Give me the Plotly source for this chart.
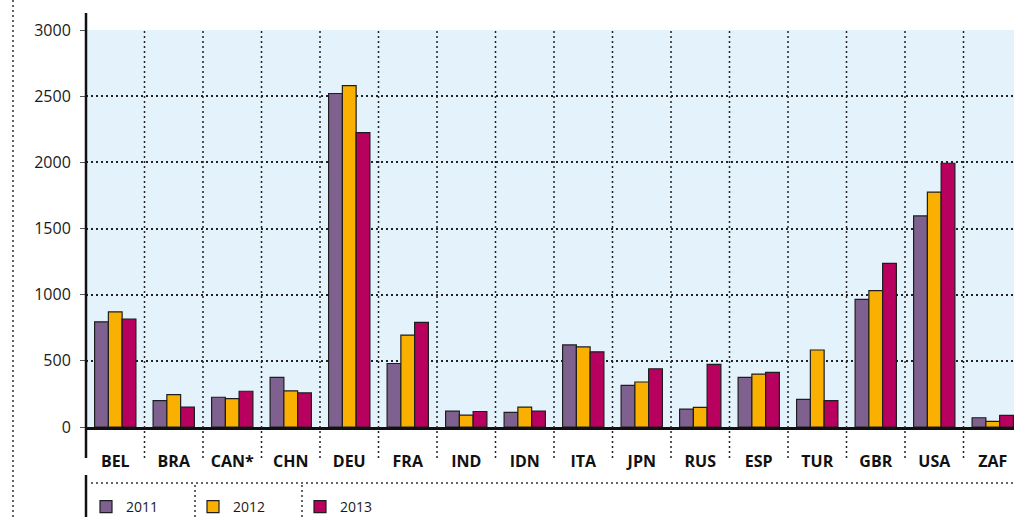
import plotly.graph_objects as go

categories = ["BEL", "BRA", "CAN*", "CHN", "DEU", "FRA", "IND", "IDN", "ITA", "JPN", "RUS", "ESP", "TUR", "GBR", "USA", "ZAF"]
years = ["2011", "2012", "2013"]
v2011 = [795, 200, 225, 375, 2520, 480, 120, 110, 620, 315, 135, 375, 208, 965, 1595, 70]
v2012 = [870, 245, 215, 273, 2580, 695, 90, 150, 605, 340, 148, 400, 582, 1030, 1775, 42]
v2013 = [815, 150, 270, 258, 2225, 790, 117, 120, 568, 440, 473, 413, 200, 1237, 1993, 88]
y_ticks = [0, 500, 1000, 1500, 2000, 2500, 3000]

colors = ["#7f6190", "#f9b000", "#b8005e"]
series = [v2011, v2012, v2013]

W, H = 1014, 517
L, T, B = 86, 30, 90
PW = W - L
PH = H - T - B
DOT = "2px,3px"

def px_x(px):
    return (px - L) / PW

def px_y(py):
    return (H - B - py) / PH

fig = go.Figure()
for name, vals, col in zip(years, series, colors):
    fig.add_trace(go.Bar(
        x=categories, y=vals, name=name,
        marker=dict(color=col, line=dict(color="#1e1e1e", width=1.2)),
    ))

shapes = []
# vertical dotted category separators
for i in range(len(categories) - 1):
    shapes.append(dict(type="line", xref="x", yref="paper",
                       x0=i + 0.5, x1=i + 0.5, y0=px_y(458), y1=1,
                       line=dict(color="#222", width=1.5, dash=DOT), layer="above"))
# left black axis line
shapes.append(dict(type="line", xref="paper", yref="paper", x0=0, x1=0,
                   y0=px_y(458), y1=px_y(13), line=dict(color="#111", width=2.5)))
# far-left dotted line
shapes.append(dict(type="line", xref="paper", yref="paper", x0=px_x(13), x1=px_x(13),
                   y0=px_y(517), y1=px_y(0), line=dict(color="#333", width=1.5, dash=DOT)))
# legend frame
shapes.append(dict(type="line", xref="paper", yref="paper", x0=0, x1=0,
                   y0=px_y(517), y1=px_y(475), line=dict(color="#111", width=2.5)))
shapes.append(dict(type="line", xref="paper", yref="paper", x0=px_x(91), x1=1,
                   y0=px_y(483), y1=px_y(483), line=dict(color="#333", width=1.5, dash=DOT)))
for sx in (195, 302):
    shapes.append(dict(type="line", xref="paper", yref="paper", x0=px_x(sx), x1=px_x(sx),
                       y0=px_y(517), y1=px_y(483), line=dict(color="#333", width=1.5, dash=DOT)))

fig.update_layout(
    width=W, height=H,
    margin=dict(l=L, r=0, t=T, b=B, pad=0, autoexpand=False),
    paper_bgcolor="white", plot_bgcolor="#e3f2fb",
    barmode="group", bargap=0.294, bargroupgap=0,
    font=dict(family="Open Sans, sans-serif", color="#1a1a1a"),
    showlegend=True,
    legend=dict(orientation="h", x=px_x(86), xanchor="left", y=px_y(507), yanchor="middle",
                entrywidth=62, entrywidthmode="pixels", bgcolor="rgba(0,0,0,0)",
                font=dict(size=14, color="#1a1a1a"), traceorder="normal"),
    shapes=shapes,
    xaxis=dict(type="category", range=[-0.5, 15.5 - 8 / 58.5], showgrid=False, automargin=False,
               showline=True, linecolor="#111", linewidth=2.5, ticks="",
               tickfont=dict(size=16, color="#111", family="Open Sans, sans-serif", weight="bold"),
               ticklabelstandoff=18, fixedrange=True),
    yaxis=dict(range=[0, 3000], tickvals=y_ticks, showgrid=True, griddash=DOT, automargin=False,
               gridcolor="#222", gridwidth=1.5, zeroline=False, showline=False,
               ticks="outside", ticklen=5, tickcolor="#555", tickwidth=1,
               tickfont=dict(size=16, color="#1a1a1a"), ticklabelstandoff=6),
)

fig.write_html("out.html", config={"displayModeBar": False})

# remove the default 8px page margin so the figure sits at the window origin
with open("out.html", "r", encoding="utf-8") as f:
    html = f.read()
html = html.replace("<head>", "<head><style>html,body{margin:0;padding:0;overflow:hidden;}</style>", 1)
with open("out.html", "w", encoding="utf-8") as f:
    f.write(html)
